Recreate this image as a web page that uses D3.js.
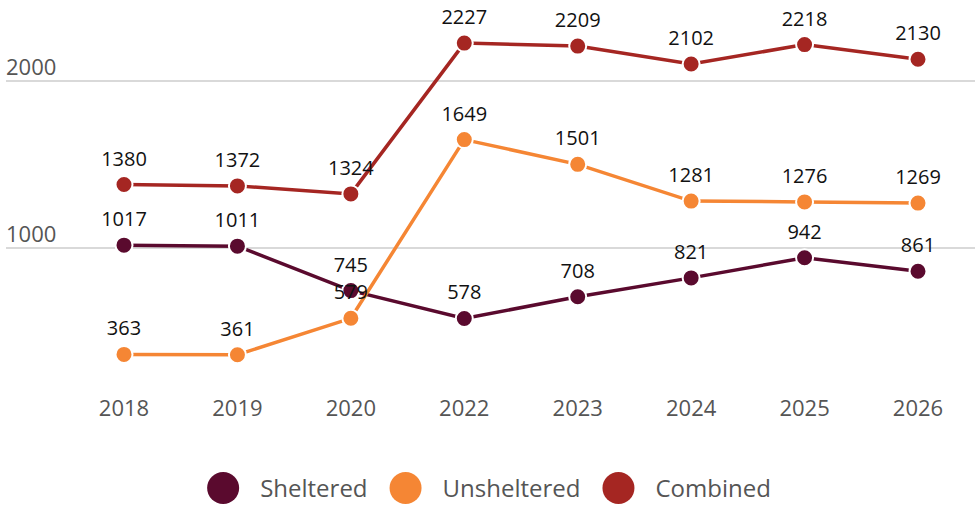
<!DOCTYPE html>
<html>
<head>
<meta charset="utf-8">
<script src="https://cdn.jsdelivr.net/npm/d3@7"></script>
<style>
  body { margin: 0; background: #fff; }
  text { font-family: "Open Sans", sans-serif; }
</style>
</head>
<body>
<div id="chart"></div>
<script>
const years = ['2018', '2019', '2020', '2022', '2023', '2024', '2025', '2026'];
const sheltered = [1017, 1011, 745, 578, 708, 821, 942, 861];
const unsheltered = [363, 361, 579, 1649, 1501, 1281, 1276, 1269];
const combined = [1380, 1372, 1324, 2227, 2209, 2102, 2218, 2130];
const yTicks = [1000, 2000];

const seriesNames = ['Sheltered', 'Unsheltered', 'Combined'];
const seriesColors = ['#5a0a2e', '#f58634', '#a52622'];
const seriesValues = [sheltered, unsheltered, combined];

const width = 976;
const height = 506;

const svg = d3.select('#chart')
    .append('svg')
    .attr('width', width)
    .attr('height', height);

const x = d3.scalePoint()
    .domain(years)
    .range([124, 918]);

const y = d3.scaleLinear()
    .domain([0, 2000])
    .range([415, 81]);

// gridlines + labels sitting above the line
const grid = svg.append('g');
yTicks.forEach((t) => {
    grid.append('line')
        .attr('x1', 6)
        .attr('x2', 975)
        .attr('y1', y(t))
        .attr('y2', y(t))
        .attr('stroke', '#d9d9d9')
        .attr('stroke-width', 2);
    grid.append('text')
        .attr('x', 6)
        .attr('y', y(t) - 6)
        .attr('fill', '#555')
        .style('font-size', '22px')
        .text(t);
});

// x axis labels
svg.append('g')
    .selectAll('text')
    .data(years)
    .enter()
    .append('text')
    .attr('x', (d) => x(d))
    .attr('y', 416)
    .attr('text-anchor', 'middle')
    .attr('fill', '#555')
    .style('font-size', '22px')
    .text((d) => d);

const line = d3.line()
    .x((d, i) => x(years[i]))
    .y((d) => y(d));

const series = seriesNames.map((name, i) => ({
    name: name,
    color: seriesColors[i],
    values: seriesValues[i]
}));

series.forEach((s) => {
    svg.append('path')
        .datum(s.values)
        .attr('fill', 'none')
        .attr('stroke', s.color)
        .attr('stroke-width', 3.5)
        .attr('d', line);

    svg.append('g')
        .selectAll('circle')
        .data(s.values)
        .enter()
        .append('circle')
        .attr('cx', (d, i) => x(years[i]))
        .attr('cy', (d) => y(d))
        .attr('r', 8.5)
        .attr('fill', s.color)
        .attr('stroke', '#fff')
        .attr('stroke-width', 2);
});

series.forEach((s) => {
    svg.append('g')
        .selectAll('text')
        .data(s.values)
        .enter()
        .append('text')
        .attr('x', (d, i) => x(years[i]))
        .attr('y', (d) => y(d) - 19)
        .attr('text-anchor', 'middle')
        .attr('fill', '#111')
        .style('font-size', '20px')
        .text((d) => d);
});

// legend, laid out from text widths and centred
const legend = svg.append('g').attr('transform', 'translate(0,488)');
const items = legend.selectAll('g')
    .data(series)
    .enter()
    .append('g');

items.append('circle')
    .attr('r', 16)
    .attr('fill', (d) => d.color);

items.append('text')
    .attr('x', 37)
    .attr('y', 8.5)
    .attr('fill', '#555')
    .style('font-size', '24px')
    .text((d) => d.name);

let offset = 0;
const starts = [];
items.each(function () {
    starts.push(offset);
    const w = 16 + 37 + d3.select(this).select('text').node().getComputedTextLength();
    offset += w + 22;
});
const total = offset - 22;
const left = (width - total) / 2 + 1;
items.attr('transform', (d, i) => `translate(${left + 16 + starts[i]},0)`);
</script>
</body>
</html>
